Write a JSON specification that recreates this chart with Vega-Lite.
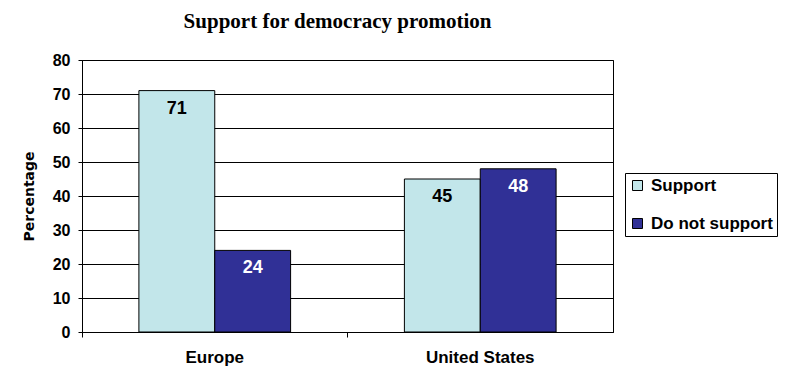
{
  "$schema": "https://vega.github.io/schema/vega-lite/v6.json",
  "autosize": "none",
  "width": 531,
  "height": 272,
  "padding": {"left": 82, "top": 60, "right": 187, "bottom": 53},
  "background": "white",
  "title": {
    "text": "Support for democracy promotion",
    "font": "Liberation Serif",
    "fontSize": 21,
    "fontWeight": "bold",
    "color": "black",
    "anchor": "middle",
    "dx": -10,
    "offset": 20
  },
  "config": {
    "view": {"stroke": "black", "strokeWidth": 1},
    "axis": {
      "labelFont": "Liberation Sans",
      "labelFontWeight": "bold",
      "labelFontSize": 16,
      "labelColor": "black",
      "titleFont": "DejaVu Sans",
      "titleFontWeight": "bold",
      "titleFontSize": 14,
      "titleColor": "black",
      "domainColor": "black",
      "tickColor": "black",
      "gridColor": "black",
      "gridOpacity": 1
    }
  },
  "data": {
    "values": [
      {"region": "Europe", "response": "Support", "pct": 71},
      {"region": "Europe", "response": "Do not support", "pct": 24},
      {"region": "United States", "response": "Support", "pct": 45},
      {"region": "United States", "response": "Do not support", "pct": 48}
    ]
  },
  "encoding": {
    "x": {
      "field": "region",
      "type": "nominal",
      "sort": ["Europe", "United States"],
      "scale": {"paddingInner": 0, "paddingOuter": 0},
      "axis": {
        "title": null,
        "labelAngle": 0,
        "labelFontSize": 17,
        "bandPosition": 0,
        "grid": false,
        "tickSize": 5,
        "labelPadding": 12
      }
    },
    "xOffset": {
      "field": "response",
      "type": "nominal",
      "sort": ["Support", "Do not support"],
      "scale": {"paddingInner": 0, "paddingOuter": 0.75}
    },
    "y": {
      "field": "pct",
      "type": "quantitative",
      "scale": {"domain": [0, 80]},
      "axis": {
        "title": "Percentage",
        "values": [0, 10, 20, 30, 40, 50, 60, 70, 80],
        "tickSize": 4,
        "labelPadding": 8,
        "titlePadding": 16,
        "grid": true
      }
    }
  },
  "layer": [
    {
      "mark": {"type": "bar", "stroke": "black", "strokeWidth": 1},
      "encoding": {
        "color": {
          "field": "response",
          "type": "nominal",
          "sort": ["Support", "Do not support"],
          "scale": {"domain": ["Support", "Do not support"], "range": ["#C2E6EA", "#303096"]},
          "legend": {
            "title": null,
            "orient": "none",
            "legendX": 543,
            "legendY": 113,
            "symbolType": "square",
            "symbolSize": 100,
            "symbolStrokeColor": "black",
            "symbolStrokeWidth": 1,
            "symbolOffset": 0,
            "labelOffset": 5,
            "labelFont": "Liberation Sans",
            "labelFontWeight": "bold",
            "labelFontSize": 17,
            "labelColor": "black",
            "rowPadding": 20,
            "padding": 4,
            "strokeColor": "black",
            "fillColor": "white",
            "labelLimit": 200
          }
        }
      }
    },
    {
      "mark": {"type": "text", "baseline": "middle", "dy": 18, "font": "Liberation Sans", "fontWeight": "bold", "fontSize": 18},
      "encoding": {
        "text": {"field": "pct", "type": "quantitative"},
        "color": {
          "condition": {"test": "datum.response === 'Support'", "value": "black"},
          "value": "white"
        }
      }
    }
  ]
}
